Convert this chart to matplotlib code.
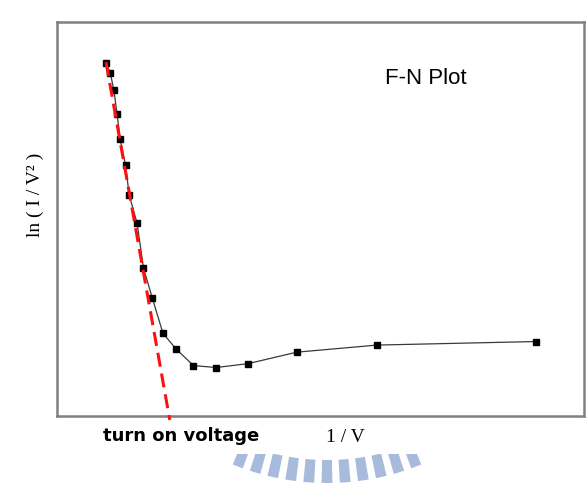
import matplotlib
matplotlib.use("Agg")
import matplotlib.pyplot as plt
import matplotlib.transforms as mtransforms
from matplotlib.patches import Wedge, Rectangle
import numpy as np

# ---- data (arbitrary units) ----
inv_v = [0.93, 1.01, 1.08, 1.14, 1.20, 1.30, 1.37, 1.52, 1.64, 1.81,
         2.01, 2.26, 2.59, 3.02, 3.63, 4.55, 6.07, 9.09]
ln_iv2 = [8.95, 8.71, 8.27, 7.66, 7.02, 6.37, 5.61, 4.89, 3.76, 2.99,
          2.10, 1.70, 1.28, 1.23, 1.33, 1.62, 1.80, 1.89]
fit_x = [0.93, 2.14]
fit_y = [8.98, -0.10]

title_text = "F-N Plot"
xlabel_text = "1 / V"
ylabel_text = "ln ( I / V² )"
note_text = "turn on voltage"

W, H, DPI = 587, 486, 100
fig = plt.figure(figsize=(W / DPI, H / DPI), dpi=DPI)
fig.patch.set_facecolor("white")

# axes frame in pixel positions: left 57, right 584, top 22, bottom 416
l, r, t, b = 57, 584, 22, 416
ax = fig.add_axes([l / W, 1 - b / H, (r - l) / W, (b - t) / H])
ax.set_xlim(0, 10)
ax.set_ylim(0, 10)
ax.set_xticks([])
ax.set_yticks([])
for s in ax.spines.values():
    s.set_color("#808080")
    s.set_linewidth(1.8)

ax.plot(inv_v, ln_iv2, color="#3a3a3a", linewidth=0.9, marker="s",
        markersize=4.6, markerfacecolor="black", markeredgecolor="black", zorder=3)
ax.plot(fit_x, fit_y, color="#ff1010", linewidth=2.2, linestyle=(0, (4.6, 2.3)),
        clip_on=False, zorder=4)

fig.text(426 / W, 1 - 79 / H, title_text, ha="center", va="center",
         fontsize=16, family="Liberation Sans")

# labels in pixel positions
fig.text(181 / W, 1 - 436 / H, note_text, ha="center", va="center",
         fontsize=13, fontweight="bold", family="DejaVu Sans")
fig.text(345 / W, 1 - 437 / H, xlabel_text, ha="center", va="center",
         fontsize=14, family="Liberation Serif")
fig.text(35 / W, 1 - 195 / H, ylabel_text, ha="center", va="center",
         rotation=90, fontsize=14, family="Liberation Serif")

# decorative watermark ring (bottom)
pix = mtransforms.Affine2D().scale(1 / DPI) + fig.dpi_scale_trans
cx, cy = 327, H - 234
clip = Rectangle((0, 0), W, H - 454, transform=pix)
for ang in np.arange(-21, 21.1, 4.2):
    theta = -90 + ang
    w = Wedge((cx, cy), 249, theta - 1.25, theta + 1.25, width=23,
              facecolor="#a9bbdc", edgecolor="none", transform=pix)
    w.set_clip_path(clip)
    fig.add_artist(w)

fig.savefig("out.png", dpi=DPI)
